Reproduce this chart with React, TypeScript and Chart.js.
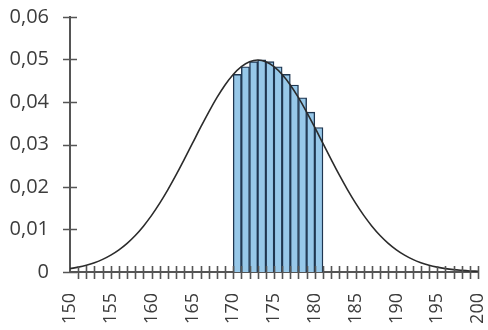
import React, { useEffect, useRef } from "react";
import { Chart, registerables } from "chart.js";

Chart.register(...registerables);

// Curve x positions (cm) and density values
const curveX = [150,151,152,153,154,155,156,157,158,159,160,161,162,163,164,165,166,167,168,169,170,171,172,173,174,175,176,177,178,179,180,181,182,183,184,185,186,187,188,189,190,191,192,193,194,195,196,197,198,199,200];
const curveY = [0.0008,0.00114,0.00159,0.00219,0.00297,0.00397,0.00522,0.00675,0.0086,0.01079,0.01332,0.01619,0.01938,0.02283,0.02649,0.03025,0.03401,0.03764,0.04102,0.04401,0.04648,0.04833,0.04948,0.04987,0.04948,0.04833,0.04648,0.04401,0.04102,0.03764,0.03401,0.03025,0.02649,0.02283,0.01938,0.01619,0.01332,0.01079,0.0086,0.00675,0.00522,0.00397,0.00297,0.00219,0.00159,0.00114,0.0008,0.00055,0.00038,0.00025,0.00017];

// Histogram bars: left edges and heights
const barStart = [170,171,172,173,174,175,176,177,178,179,180];
const barHeight = [0.0465,0.0483,0.0495,0.0499,0.0495,0.0483,0.0465,0.044,0.041,0.0376,0.034];

const yTickValues = [0,0.01,0.02,0.03,0.04,0.05,0.06];
const xLabelValues = [150,155,160,165,170,175,180,185,190,195,200];

const AXIS = "#555";
const TEXT = "#3c3c3c";
const FONT_X = { family: "'Open Sans', sans-serif", size: 18 };
const FONT_Y = { family: "'Open Sans', sans-serif", size: 20 };

const crossTicks = {
  id: "crossTicks",
  afterDatasetsDraw(chart: any) {
    const { ctx, scales } = chart;
    const xs = scales.x;
    const ys = scales.y;
    const y0 = ys.getPixelForValue(0);
    const x0 = xs.getPixelForValue(150);
    ctx.save();
    ctx.strokeStyle = AXIS;
    ctx.lineWidth = 1.6;
    ctx.beginPath();
    for (let v = 151; v <= 200; v++) {
      const px = Math.round(xs.getPixelForValue(v)) + 0.5;
      ctx.moveTo(px, y0 - 6);
      ctx.lineTo(px, y0 + 7);
    }
    for (const t of yTickValues) {
      const py = Math.round(ys.getPixelForValue(t)) + 0.5;
      ctx.moveTo(x0 - 7, py);
      ctx.lineTo(x0 + 7, py);
    }
    ctx.stroke();
    ctx.restore();
  },
};

export default function App() {
  const ref = useRef<HTMLCanvasElement | null>(null);
  useEffect(() => {
    if (!ref.current) return;
    const chart = new Chart(ref.current, {
      type: "bar",
      data: {
        datasets: [
          {
            type: "line",
            data: curveX.map((x, i) => ({ x, y: curveY[i] })),
            borderColor: "#2b2b2b",
            borderWidth: 1.6,
            pointRadius: 0,
            tension: 0.4,
            fill: false,
            order: 0,
          } as any,
          {
            type: "bar",
            data: barStart.map((x, i) => ({ x: x + 0.5, y: barHeight[i] })),
            backgroundColor: "#97c8e9",
            borderColor: "#1f3650",
            borderWidth: 1.4,
            barPercentage: 1,
            categoryPercentage: 1,
            order: 1,
          } as any,
        ],
      },
      options: {
        animation: false,
        responsive: false,
        layout: { padding: { top: 17, right: 10, left: 0, bottom: 0 } },
        plugins: { legend: { display: false }, tooltip: { enabled: false } },
        scales: {
          x: {
            type: "linear",
            min: 150,
            max: 200,
            offset: false,
            grid: { display: false },
            border: { display: true, color: AXIS, width: 2 },
            afterBuildTicks: (s: any) => {
              s.ticks = xLabelValues.map((v) => ({ value: v }));
            },
            afterFit: (s: any) => {
              s.height = 58;
              s.paddingLeft = 0;
              s.paddingRight = 0;
            },
            ticks: {
              autoSkip: false,
              minRotation: 90,
              maxRotation: 90,
              padding: 13,
              color: TEXT,
              font: FONT_X,
              callback: (v: any) => String(v),
            },
          },
          y: {
            min: 0,
            max: 0.06,
            grid: { display: false },
            border: { display: true, color: AXIS, width: 2 },
            afterBuildTicks: (s: any) => {
              s.ticks = yTickValues.map((v) => ({ value: v }));
            },
            afterFit: (s: any) => {
              s.width = 70;
              s.paddingTop = 0;
              s.paddingBottom = 0;
            },
            ticks: {
              padding: 13,
              color: TEXT,
              font: FONT_Y,
              callback: (v: any) =>
                Number(v) === 0 ? "0" : Number(v).toFixed(2).replace(".", ","),
            },
          },
        },
      },
      plugins: [crossTicks],
    });
    return () => chart.destroy();
  }, []);
  return (
    <div style={{ position: "fixed", left: 0, top: 0, width: 488, height: 330, background: "#fff" }}>
      <canvas ref={ref} width={488} height={330} style={{ width: 488, height: 330 }} />
    </div>
  );
}
